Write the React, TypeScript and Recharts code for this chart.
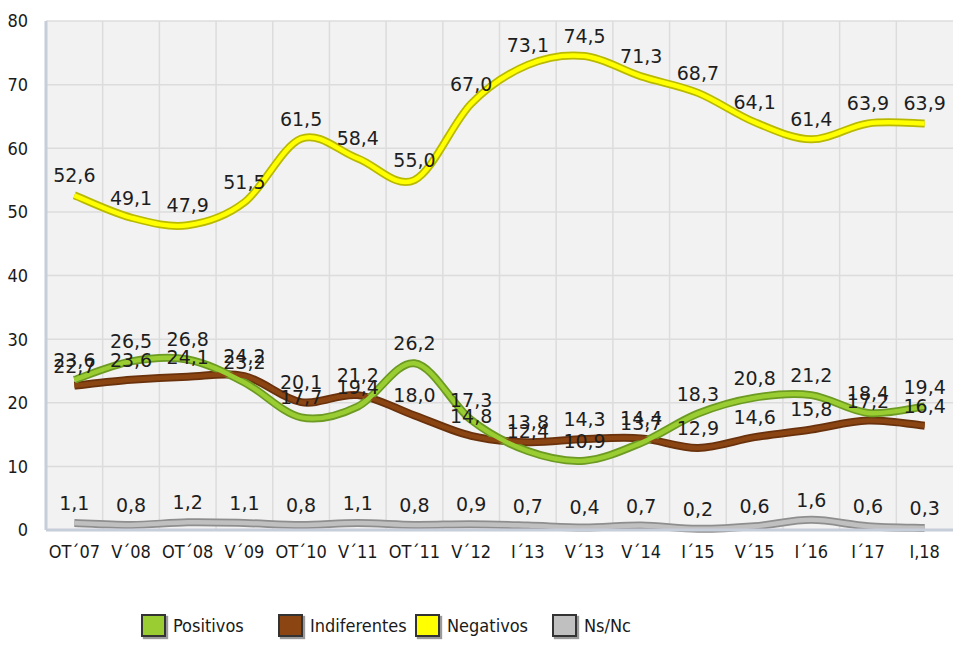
import { CartesianGrid, ComposedChart, LabelList, Line, XAxis, YAxis } from 'recharts';

const periods = ['OT´07', 'V´08', 'OT´08', 'V´09', 'OT´10', 'V´11', 'OT´11', 'V´12', 'I´13', 'V´13', 'V´14', 'I´15', 'V´15', 'I´16', 'I´17', 'I,18'];
const positivos = [23.6, 26.5, 26.8, 23.2, 17.7, 19.4, 26.2, 17.3, 12.4, 10.9, 13.7, 18.3, 20.8, 21.2, 18.4, 19.4];
const indiferentes = [22.7, 23.6, 24.1, 24.2, 20.1, 21.2, 18.0, 14.8, 13.8, 14.3, 14.4, 12.9, 14.6, 15.8, 17.2, 16.4];
const negativos = [52.6, 49.1, 47.9, 51.5, 61.5, 58.4, 55.0, 67.0, 73.1, 74.5, 71.3, 68.7, 64.1, 61.4, 63.9, 63.9];
const nsnc = [1.1, 0.8, 1.2, 1.1, 0.8, 1.1, 0.8, 0.9, 0.7, 0.4, 0.7, 0.2, 0.6, 1.6, 0.6, 0.3];
const yTicks = [0, 10, 20, 30, 40, 50, 60, 70, 80];

const rows = periods.map((p, i) => ({
  p,
  pos: positivos[i],
  ind: indiferentes[i],
  neg: negativos[i],
  ns: nsnc[i],
}));

// draw order: gray first, brown under green, yellow on top
const series = [
  { key: 'ns', name: 'Ns/Nc', fill: '#c0c0c0', edge: '#8e8e8e', light: '#c8c8c8' },
  { key: 'ind', name: 'Indiferentes', fill: '#8b4513', edge: '#6a320c', light: '#a5582a' },
  { key: 'pos', name: 'Positivos', fill: '#9acd32', edge: '#6c9a22', light: '#b4dc5a' },
  { key: 'neg', name: 'Negativos', fill: '#ffff00', edge: '#b9b900', light: '#ffff3a' },
];
const legendOrder = ['pos', 'ind', 'neg', 'ns'];

const font = '"DejaVu Sans Condensed", "DejaVu Sans", sans-serif';
const fmt = (v: any) => Number(v).toFixed(1).replace('.', ',');

// excel-ish smoothing (catmull-rom through every point)
function smooth(ctx: any) {
  let pts: number[][] = [];
  return {
    areaStart() {},
    areaEnd() {},
    lineStart() {
      pts = [];
    },
    point(x: number, y: number) {
      pts.push([+x, +y]);
    },
    lineEnd() {
      if (!pts.length) return;
      ctx.moveTo(pts[0][0], pts[0][1]);
      for (let i = 0; i < pts.length - 1; i++) {
        const p0 = pts[i - 1] || pts[i];
        const p1 = pts[i];
        const p2 = pts[i + 1];
        const p3 = pts[i + 2] || p2;
        ctx.bezierCurveTo(
          p1[0] + (p2[0] - p0[0]) / 6,
          p1[1] + (p2[1] - p0[1]) / 6,
          p2[0] - (p3[0] - p1[0]) / 6,
          p2[1] - (p3[1] - p1[1]) / 6,
          p2[0],
          p2[1],
        );
      }
    },
  };
}

export default function App() {
  return (
    <div style={{ position: 'absolute', left: 0, top: 0, width: 956, height: 645, background: '#fff' }}>
      <ComposedChart width={956} height={645} data={rows} margin={{ top: 21, right: 3, left: 0, bottom: 0 }}>
        <CartesianGrid
          fill="#f2f2f2"
          stroke="#dcdcdc"
          strokeWidth={1.5}
          verticalCoordinatesGenerator={({ offset }: any) =>
            periods.slice(1).map((_, i) => offset.left + ((i + 1) * offset.width) / periods.length)
          }
        />
        <XAxis
          dataKey="p"
          scale="band"
          height={115}
          interval={0}
          tickLine={false}
          tickMargin={9}
          axisLine={{ stroke: '#c6ceda', strokeWidth: 3 }}
          tick={{ fill: '#1a1a1a', fontSize: 18, fontFamily: font }}
        />
        <YAxis
          width={46}
          domain={[0, 80]}
          ticks={yTicks}
          tickLine={false}
          tickMargin={12}
          axisLine={{ stroke: '#c6ceda', strokeWidth: 3 }}
          tick={{ fill: '#1a1a1a', fontSize: 18, fontFamily: font }}
        />
        {series.map((s) => (
          <Line
            key={s.key + '-edge'}
            dataKey={s.key}
            type={smooth as any}
            stroke={s.edge}
            strokeWidth={8}
            dot={false}
            activeDot={false}
            isAnimationActive={false}
          />
        ))}
        {series.map((s) => (
          <Line
            key={s.key + '-core'}
            dataKey={s.key}
            type={smooth as any}
            stroke={s.fill}
            strokeWidth={4.5}
            dot={false}
            activeDot={false}
            isAnimationActive={false}
          />
        ))}
        {series.map((s) => (
          <Line
            key={s.key + '-labels'}
            dataKey={s.key}
            stroke="none"
            dot={false}
            activeDot={false}
            isAnimationActive={false}
          >
            <LabelList
              dataKey={s.key}
              position="top"
              offset={13}
              formatter={fmt}
              style={{ fill: '#1e1e1e', fontSize: 19, fontFamily: '"DejaVu Sans", sans-serif' }}
            />
          </Line>
        ))}
      </ComposedChart>
      <div style={{ position: 'absolute', left: 141, top: 614, display: 'flex', fontFamily: font, fontSize: 18, color: '#1a1a1a' }}>
        {legendOrder.map((k) => {
          const s = series.find((x) => x.key === k)!;
          return (
            <div key={k} style={{ width: 137, display: 'flex', alignItems: 'center', gap: 7 }}>
              <span
                style={{
                  width: 21,
                  height: 19,
                  background: s.fill,
                  border: '2px solid #333',
                  boxShadow: '2px 2px 1px #9a9a9a',
                  display: 'inline-block',
                }}
              />
              <span>{s.name}</span>
            </div>
          );
        })}
      </div>
    </div>
  );
}
